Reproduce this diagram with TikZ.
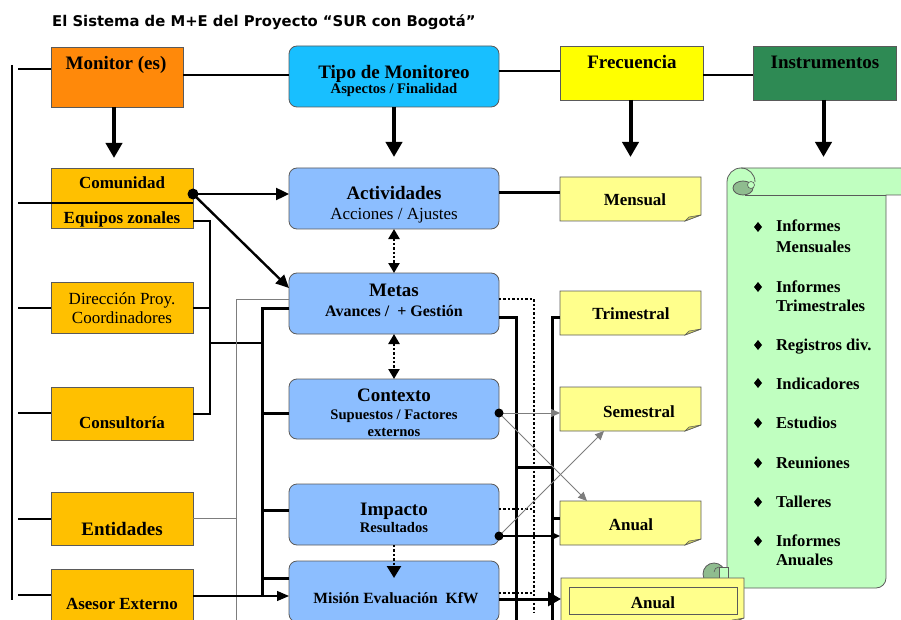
\documentclass[tikz,border=0pt]{standalone}
\usepackage{fontspec}
\setmainfont{Liberation Serif}
\newfontfamily\titlefont{DejaVu Sans}
\usetikzlibrary{arrows.meta,calc}

\definecolor{monorange}{RGB}{255,137,10}
\definecolor{tipocyan}{RGB}{24,191,255}
\definecolor{freqyellow}{RGB}{255,255,0}
\definecolor{instgreen}{RGB}{46,138,84}
\definecolor{actorgold}{RGB}{255,192,0}
\definecolor{levelblue}{RGB}{140,190,255}
\definecolor{noteyellow}{RGB}{255,255,140}
\definecolor{notefold}{RGB}{205,205,95}
\definecolor{scrollgreen}{RGB}{192,255,192}
\definecolor{curlgreen}{RGB}{143,188,143}
\definecolor{edgegray}{RGB}{90,90,90}
\definecolor{wiregray}{RGB}{125,125,125}

\newcommand{\fs}[1]{\fontsize{#1}{#1}\selectfont}

% sticky-note outline with a folded lower right corner around a named node
\newcommand{\notepath}[1]{%
  \filldraw[fill=noteyellow, draw=edgegray, line width=0.8pt]
    (#1.north west) -- (#1.north east) -- ($(#1.south east)+(0,-6)$)
    -- ($(#1.south east)+(-16,0)$) -- (#1.south west) -- cycle;
  \filldraw[fill=notefold, draw=edgegray, line width=0.5pt]
    ($(#1.south east)+(-16,0)$) -- ($(#1.south east)+(0,-6)$)
    -- ($(#1.south east)+(-12,-4)$) -- cycle;}

\begin{document}
\begin{tikzpicture}[x=1pt,y=-1pt,
  box/.style={draw=edgegray, line width=0.8pt, inner sep=0pt, outer sep=0pt},
  rbox/.style={box, rounded corners=8pt},
  gbox/.style={box, fill=actorgold, minimum width=142pt},
  bbox/.style={rbox, fill=levelblue, minimum width=210pt, minimum height=61pt},
  spot/.style={inner sep=0pt, outer sep=0pt, minimum width=141pt, minimum height=44pt},
  lbl/.style={anchor=base, inner sep=0pt, outer sep=0pt},
  big/.style={lbl, font=\fs{19}\bfseries},
  mid/.style={lbl, font=\fs{17}\bfseries},
  sml/.style={lbl, font=\fs{14.6}\bfseries},
  plain/.style={lbl, font=\fs{17}},
  item/.style={anchor=base west, inner sep=0pt, outer sep=0pt, font=\fs{16.6}\bfseries},
  bullet/.style={fill=black, draw=none},
  med/.style={line width=2pt},
  thickline/.style={line width=3pt},
  thinline/.style={line width=1pt, draw=wiregray},
  dotline/.style={line width=2.4pt, dash pattern=on 2.4pt off 2pt},
  bigarrow/.style={line width=4pt, -{Triangle[length=15pt,width=16pt]}},
  arr/.style={line width=2.4pt, -{Triangle[length=13pt,width=12pt]}},
  smallarr/.style={-{Triangle[length=9pt,width=8pt]}},
  dotarrows/.style={dotline, {Triangle[length=10pt,width=11pt]}-{Triangle[length=10pt,width=11pt]}},
  dotarrow/.style={dotline, -{Triangle[length=12pt,width=14pt]}},
]
\useasboundingbox (0,0) rectangle (901,620);
\clip (0,0) rectangle (901,620);

% ---------- title ----------
\node[anchor=base west, inner sep=0pt, font=\titlefont\bfseries\fs{14.8}] (title) at (52,27)
  {El Sistema de M+E del Proyecto “SUR con Bogotá”};

% ---------- scroll of instruments ----------
\filldraw[fill=scrollgreen, draw=edgegray, line width=0.8pt]
  (727,588) -- (727,182) arc (180:270:14) -- (910,168) -- (910,195) -- (886,195)
  -- (886,578) arc (0:90:10) -- cycle;
\draw[edgegray, line width=0.8pt] (745,195) -- (886,195);
\filldraw[fill=curlgreen, draw=edgegray, line width=0.8pt] (743,188) ellipse (10 and 7);
\filldraw[fill=scrollgreen, draw=edgegray, line width=0.6pt] (751,185) circle (3.5);
\draw[edgegray, line width=0.8pt] (741,168) arc (270:360:14);
\filldraw[fill=curlgreen, draw=edgegray, line width=0.8pt] (714,574) circle (11);
\filldraw[fill=scrollgreen, draw=edgegray, line width=0.6pt] (719,567) rectangle (728,582);
\draw[edgegray, line width=0.6pt] (719,567) arc (270:180:5);

% ---------- header boxes ----------
\node[box, fill=monorange, minimum width=132pt, minimum height=60pt] (mon) at (117,77) {};
\node[rbox, fill=tipocyan, minimum width=210pt, minimum height=61pt] (tipo) at (394,76.5) {};
\node[box, fill=freqyellow, minimum width=143pt, minimum height=54pt] (freq) at (631.5,73) {};
\node[box, fill=instgreen, minimum width=143pt, minimum height=54pt] (inst) at (824.5,73) {};
\node[big] (monT) at (116,70) {Monitor (es)};
\node[big] (tipoT) at (394,79) {Tipo de Monitoreo};
\node[sml] (tipoS) at (394,94) {Aspectos / Finalidad};
\node[big] (freqT) at (632,69) {Frecuencia};
\node[big] (instT) at (825,69) {Instrumentos};

% ---------- actors ----------
\node[gbox, minimum height=60pt] (com) at (122,198) {};
\node[gbox, minimum height=51pt] (dir) at (122,307.5) {};
\node[gbox, minimum height=53pt] (cons) at (122,413.5) {};
\node[gbox, minimum height=53pt] (ent) at (122,518.5) {};
\node[gbox, minimum height=61pt] (ase) at (122,599.5) {};
\node[mid] (comT) at (122,189) {Comunidad};
\begin{scope}
  \clip (com.north west) rectangle (com.south east);
  \node[mid] (eqT) at (122,224) {Equipos zonales};
\end{scope}
\node[plain] (dirT) at (122,304) {Dirección Proy.};
\node[plain] (dirS) at (122,323) {Coordinadores};
\node[mid] (consT) at (122,428) {Consultoría};
\node[big] (entT) at (122,535) {Entidades};
\node[mid] (aseT) at (122,609) {Asesor Externo};

% ---------- monitoring levels ----------
\node[bbox] (act) at (394,198.5) {};
\node[bbox] (metas) at (394,303.5) {};
\node[bbox, minimum height=60pt] (ctx) at (394,409) {};
\node[bbox] (imp) at (394,514.5) {};
\node[bbox] (mis) at (394,591.5) {};
\node[big] (actT) at (394,200) {Actividades};
\node[plain] (actS) at (394,219) {Acciones / Ajustes};
\node[big] (metT) at (394,296) {Metas};
\node[lbl, font=\fs{16}\bfseries] (metS) at (394,316) {Avances /\ \ + Gestión};
\node[big] (ctxT) at (394,401) {Contexto};
\node[sml] (ctxS) at (394,419) {Supuestos / Factores};
\begin{scope}
  \clip (ctx.north west) rectangle (ctx.south east);
  \node[sml] (ctxU) at (394,436) {externos};
\end{scope}
\node[big] (impT) at (394,515) {Impacto};
\node[sml] (impS) at (394,532) {Resultados};
\node[lbl, font=\fs{15.6}\bfseries] (misT) at (396,603) {Misión Evaluación\ \ KfW};

% ---------- frequency notes ----------
\node[spot] (mens) at (630.5,199) {};
\node[spot] (trim) at (630.5,313) {};
\node[spot] (sem) at (630.5,409) {};
\node[spot] (anu) at (630.5,523) {};
\node[spot, minimum width=183pt, minimum height=46pt] (anu2) at (652.5,601) {};
\notepath{mens}
\notepath{trim}
\notepath{sem}
\notepath{anu}
\notepath{anu2}
\node[box, draw=edgegray, line width=1pt, minimum width=168pt, minimum height=27pt] (anu2in) at (653,600.5) {};
\node[mid] (mensT) at (635,206) {Mensual};
\node[mid] (trimT) at (631,319) {Trimestral};
\node[mid] (semT) at (639,417) {Semestral};
\node[mid] (anuT) at (631,530) {Anual};
\node[mid] (anu2T) at (653,608) {Anual};

% ---------- instrument list ----------
\foreach \yy in {227,287,345,383,423,463,502,541}
  \fill (758,\yy-5) -- (762,\yy) -- (758,\yy+5) -- (754,\yy) -- cycle;
\node[item] (i1a) at (776,232) {Informes};
\node[item] (i1b) at (776,252) {Mensuales};
\node[item] (i2a) at (776,292) {Informes};
\node[item] (i2b) at (776,311) {Trimestrales};
\node[item] (i3) at (776,350) {Registros div.};
\node[item] (i4) at (776,389) {Indicadores};
\node[item] (i5) at (776,428) {Estudios};
\node[item] (i6) at (776,468) {Reuniones};
\node[item] (i7) at (776,507) {Talleres};
\node[item] (i8a) at (776,546) {Informes};
\node[item] (i8b) at (776,565) {Anuales};

% ---------- bus coordinates ----------
\coordinate (brx) at (18,0);
\coordinate (busA) at (210,0);
\coordinate (busB) at (236,0);
\coordinate (busC) at (262,0);
\coordinate (busD) at (516,0);
\coordinate (busE) at (534,0);
\coordinate (busF) at (552,0);

% ---------- header connectors ----------
\draw[med] (12,65) -- (12,600);
\draw[med] (mon.west |- 0,69) -- (brx |- 0,69);
\draw[med] (mon.east |- 0,75) -- (tipo.west |- 0,75);
\draw[med] (tipo.east |- 0,71) -- (freq.west |- 0,71);
\draw[med] (freq.east |- 0,75) -- (inst.west |- 0,75);
\draw[bigarrow] ($(mon.south)+(-3,0)$) -- ++(0,51);
\draw[bigarrow] (tipo.south) -- ++(0,50);
\draw[bigarrow] ($(freq.south)+(-1,0)$) -- ++(0,57);
\draw[bigarrow] ($(inst.south)+(-1,0)$) -- ++(0,57);

% ---------- actor connectors ----------
\draw[med] (brx |- 0,203) -- (com.east |- 0,203);
\draw[med] (brx |- dir) -- (dir.west);
\draw[med] (brx |- 0,413) -- (cons.west |- 0,413);
\draw[med] (brx |- ent) -- (ent.west);
\draw[med] (brx |- 0,595) -- (ase.west |- 0,595);

\fill (com.east |- 0,194) circle (5.5);
\draw[arr] (com.east |- 0,194) -- (act.west |- 0,194);
\draw[arr] (com.east |- 0,194) -- (metas.west |- 0,288);

\draw[med] (com.east |- 0,221) -| (busA |- cons) -- (cons.east);
\draw[med] (dir.east) -- (busA |- dir);
\draw[med] (busA |- 0,343) -- (busC |- 0,343);

\draw[thinline] (busB |- 0,625) -- (busB |- 0,299) -- (metas.west |- 0,299);
\draw[thinline] (ent.east) -- (busB |- ent);

\draw[thickline] (metas.west |- 0,308) -| (busC |- 0,597);
\draw[thickline] (busC |- 0,413) -- (ctx.west |- 0,413);
\draw[thickline] (busC |- 0,510) -- (imp.west |- 0,510);
\draw[thickline] (busC |- 0,578) -- (mis.west |- 0,578);
\draw[line width=1.2pt, -{Triangle[length=12pt,width=10pt]}] (ase.east |- 0,596) -- (mis.west |- 0,596);

% ---------- level to level ----------
\draw[dotarrows] (act.south) -- (metas.north);
\draw[dotarrows] (metas.south) -- (ctx.north);
\draw[dotarrow] (imp.south) -- ($(mis.north)+(0,17)$);

% ---------- level to frequency ----------
\draw[thickline] (act.east |- 0,193) -- (mens.west |- 0,193);
\draw[dotline] (metas.east |- 0,299) -| (busE |- 0,613);
\draw[thickline] (metas.east |- 0,317) -| (busD |- 0,625);
\draw[thickline] (trim.west |- 0,317) -| (busF |- 0,625);
\draw[thickline] (busD |- 0,467) -- (busF |- 0,467);
\draw[thickline] (busF |- 0,518) -- (anu.west |- 0,518);

\draw[thinline, smallarr] (ctx.east |- 0,413) -- (sem.west |- 0,413);
\draw[thinline, smallarr] (ctx.east |- 0,413) -- ($(anu.north west)+(27,0)$);
\fill (ctx.east |- 0,413) circle (4.5);

\draw[dotline] (imp.east |- 0,509) -- (busE |- 0,509);
\draw[line width=1.5pt, smallarr] (imp.east |- 0,536) -- (anu.west |- 0,536);
\draw[thinline, smallarr] (imp.east |- 0,536) -- ($(sem.south west)+(44,0)$);
\fill (imp.east |- 0,536) circle (4.5);

\draw[dotline] (mis.east |- 0,593) -- (busE |- 0,593);
\draw[line width=3pt, -{Triangle[length=13pt,width=14pt]}] (mis.east |- 0,599) -- (anu2.west |- 0,599);
\end{tikzpicture}
\end{document}
